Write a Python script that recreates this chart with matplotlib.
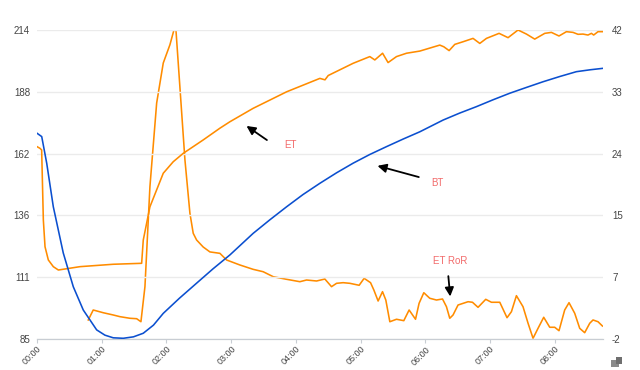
import matplotlib
matplotlib.use("Agg")
import matplotlib.pyplot as plt
from matplotlib.patches import Rectangle
import numpy as np

ORANGE = "#ff8c00"
BLUE = "#0b4fcf"
NOTE = "#f26b6b"
GRID = "#ebebeb"
LABEL = "#444444"

# time axis in "hours" of the chart (labelled 00:00 ... 08:00)
bt_time = [0.0, 0.073, 0.15, 0.252, 0.406, 0.561, 0.715, 0.922, 1.05, 1.178, 1.333,
           1.49, 1.642, 1.8, 1.951, 2.2, 2.466, 2.72, 2.981, 3.34, 3.6, 3.857, 4.11,
           4.371, 4.63, 4.885, 5.14, 5.40, 5.66, 5.915, 6.275, 6.53, 6.79, 7.05,
           7.305, 7.56, 7.82, 8.08, 8.335, 8.55, 8.746]
bt_temp = [170.9, 169.5, 158.4, 140.2, 120.9, 106.8, 97.1, 88.8, 86.6, 85.5, 85.3,
           85.9, 87.4, 90.8, 95.7, 102.0, 108.3, 114.3, 120.1, 129.1, 134.8, 140.2, 145.3,
           150.0, 154.4, 158.4, 162.0, 165.3, 168.5, 171.5, 176.4, 179.3, 182.0, 184.9,
           187.6, 190.0, 192.4, 194.6, 196.6, 197.4, 198.0]

et_time = [0.0, 0.046, 0.072, 0.098, 0.124, 0.175, 0.252, 0.33, 0.664, 1.178, 1.617,
           1.642, 1.745, 1.951, 2.105, 2.259, 2.568, 2.826, 2.981, 3.34, 3.857, 4.371,
           4.45, 4.5, 4.885, 5.143, 5.22, 5.34, 5.425, 5.555, 5.71, 5.915, 6.224,
           6.286, 6.368, 6.456, 6.584, 6.738, 6.842, 6.945, 7.14, 7.279, 7.433, 7.563,
           7.691, 7.846, 7.949, 8.066, 8.181, 8.283, 8.36, 8.437, 8.514, 8.567, 8.602,
           8.669, 8.737]
et_temp = [165.3, 164.6, 163.9, 134.7, 123.5, 118.0, 115.2, 113.8, 115.2, 116.2, 116.6,
           126.3, 140.2, 154.2, 159.0, 162.5, 168.1, 173.0, 175.7, 181.3, 188.2, 193.8,
           193.2, 195.0, 200.1, 202.9, 201.5, 204.3, 200.4, 202.9, 204.3, 205.2, 207.7,
           207.0, 205.4, 208.0, 209.1, 210.5, 208.4, 210.5, 212.6, 210.8, 214.0, 212.3,
           210.2, 212.6, 213.0, 211.5, 213.3, 213.0, 212.2, 212.3, 211.9, 212.6, 211.9,
           213.3, 213.3]

ror_time = [0.792, 0.869, 1.024, 1.178, 1.282, 1.436, 1.54, 1.606, 1.668, 1.745,
            1.849, 1.951, 2.054, 2.116, 2.147, 2.208, 2.286, 2.363, 2.414, 2.466,
            2.568, 2.672, 2.826, 2.93, 3.135, 3.34, 3.495, 3.65, 3.857, 4.062, 4.165,
            4.32, 4.448, 4.551, 4.629, 4.73, 4.834, 4.978, 5.055, 5.154, 5.205, 5.271,
            5.339, 5.39, 5.452, 5.555, 5.668, 5.75, 5.849, 5.904, 5.977, 6.069, 6.173,
            6.266, 6.327, 6.378, 6.429, 6.506, 6.661, 6.729, 6.815, 6.934, 7.022,
            7.151, 7.263, 7.331, 7.408, 7.51, 7.588, 7.665, 7.742, 7.83, 7.923, 8.0,
            8.066, 8.154, 8.221, 8.309, 8.386, 8.463, 8.541, 8.592, 8.669, 8.737]
ror_value = [0.71, 2.13, 1.74, 1.42, 1.18, 0.95, 0.89, 0.46, 5.45, 19.7,
             31.6, 37.3, 39.9, 42.0, 42.0, 33.9, 23.5, 15.9, 13.05, 12.1,
             11.1, 10.4, 10.2, 9.25, 8.54, 7.92, 7.58, 6.87, 6.50, 6.16, 6.40,
             6.26, 6.54, 5.45, 5.93, 6.02, 5.93, 5.65, 6.64, 6.02, 4.98, 3.41,
             4.74, 3.55, 0.46, 0.81, 0.61, 2.13, 0.81, 3.08, 4.59, 3.80, 3.55,
             3.70, 2.60, 0.95, 1.42, 2.84, 3.31, 3.23, 2.51, 3.65, 3.23,
             3.23, 1.03, 1.89, 4.17, 2.60, 0.24, -1.90, -0.48, 1.09, -0.33, -0.33,
             -0.82, 2.13, 3.17, 1.66, -0.48, -1.10, 0.24, 0.71, 0.46, -0.15]

x_ticks = list(range(9))
x_labels = ["00:00", "01:00", "02:00", "03:00", "04:00", "05:00", "06:00", "07:00", "08:00"]
left_labels = ["85", "111", "136", "162", "188", "214"]
right_labels = ["-2", "7", "15", "24", "33", "42"]

plt.rcParams["font.family"] = ["Liberation Sans", "DejaVu Sans"]

fig = plt.figure(figsize=(6.4, 3.7), dpi=100)
ax = fig.add_axes([37 / 640, 31 / 370, 566 / 640, 309 / 370])
ax2 = ax.twinx()

ax.set_xlim(0, 8.746)
ax.set_ylim(85, 214)
ax2.set_ylim(-2, 42)

ax.set_yticks(np.linspace(85, 214, 6))
ax.set_yticklabels(left_labels)
ax2.set_yticks(np.linspace(-2, 42, 6))
ax2.set_yticklabels(right_labels)
ax.set_xticks(x_ticks)
ax.set_xticklabels(x_labels, rotation=45, ha="right", rotation_mode="anchor")

ax.grid(axis="y", color=GRID, linewidth=1)
ax.set_axisbelow(True)
for a in (ax, ax2):
    for side in ("top", "left", "right"):
        a.spines[side].set_visible(False)
    a.spines["bottom"].set_color("#c8cdd3")
ax.tick_params(axis="y", length=0, labelsize=7, labelcolor=LABEL, pad=5)
ax2.tick_params(axis="y", length=0, labelsize=7, labelcolor=LABEL, pad=6.5)
ax.tick_params(axis="x", length=3, color="#c8cdd3", labelsize=6.5, labelcolor=LABEL, pad=1)

ax2.plot(ror_time, ror_value, color=ORANGE, linewidth=1.15, zorder=3)
ax.plot(et_time, et_temp, color=ORANGE, linewidth=1.15, zorder=3)
ax.plot(bt_time, bt_temp, color=BLUE, linewidth=1.15, zorder=4)
ax.set_zorder(ax2.get_zorder() + 1)
ax.patch.set_visible(False)

arrow = dict(arrowstyle="-|>", color="black", linewidth=1.3, mutation_scale=13)
ax.annotate("", xy=(3.202, 174.6), xytext=(3.588, 167.4), arrowprops=arrow)
ax.text(3.918, 166.0, "ET", color=NOTE, fontsize=7, ha="center", va="center")
ax.annotate("", xy=(5.22, 157.6), xytext=(5.941, 152.3), arrowprops=arrow)
ax.text(6.182, 150.0, "BT", color=NOTE, fontsize=7, ha="center", va="center")
ax.annotate("", xy=(6.389, 101.6), xytext=(6.352, 112.4), arrowprops=arrow)
ax.text(6.389, 117.7, "ET RoR", color=NOTE, fontsize=7, ha="center", va="center")

# small grey icon in the bottom right corner (pixel coordinates)
fig.patches.append(Rectangle((611, 3), 7.5, 7.5, transform=None, facecolor="#8a8a8a", edgecolor="none"))
fig.patches.append(Rectangle((616, 6.5), 6, 6.5, transform=None, facecolor="#6f6f6f", edgecolor="none"))

fig.savefig("out.png", dpi=100)
